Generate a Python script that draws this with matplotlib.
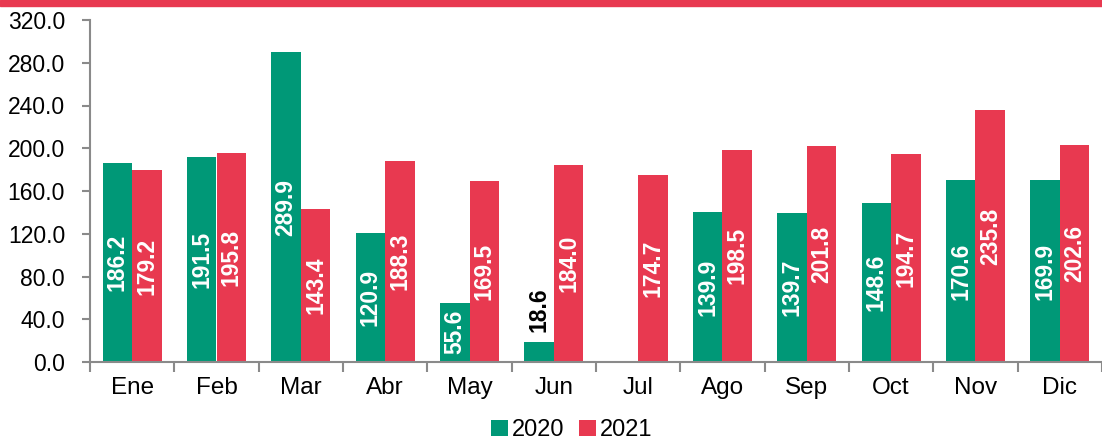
import matplotlib.pyplot as plt
import numpy as np

# Data
months = ["Ene", "Feb", "Mar", "Abr", "May", "Jun", "Jul", "Ago", "Sep", "Oct", "Nov", "Dic"]
v2020 = [186.2, 191.5, 289.9, 120.9, 55.6, 18.6, np.nan, 139.9, 139.7, 148.6, 170.6, 169.9]
v2021 = [179.2, 195.8, 143.4, 188.3, 169.5, 184.0, 174.7, 198.5, 201.8, 194.7, 235.8, 202.6]

green = "#009877"
red = "#E83950"
grey = "#8a8a8a"

plt.rcParams['font.family'] = ['Liberation Sans', 'DejaVu Sans']

fig = plt.figure(figsize=(11.02, 4.41), dpi=100)
ax = fig.add_axes([90 / 1102, 1 - 362 / 441, 1012 / 1102, (362 - 20) / 441])

# red band at the top
fig.patches.append(plt.Rectangle((0, 1 - 6 / 441), 1, 6 / 441, transform=fig.transFigure,
                                 color=red, zorder=0))

x = np.arange(len(months))
w = 0.35
b1 = ax.bar(x - w / 2, v2020, w, color=green, label="2020")
b2 = ax.bar(x + w / 2, v2021, w, color=red, label="2021")

# value labels, rotated, centred in the bars
for xs, vals in [(x - w / 2, v2020), (x + w / 2, v2021)]:
    for xi, v in zip(xs, vals):
        if np.isnan(v):
            continue
        if v < 40:
            ax.annotate(f"{v:.1f}", (xi, v), xytext=(0, 7), textcoords="offset points",
                        rotation=90, ha="center", va="bottom", fontsize=16.5,
                        fontweight="bold", color="black")
        else:
            ax.text(xi, v / 2, f"{v:.1f}", rotation=90, ha="center", va="center",
                    fontsize=16.5, fontweight="bold", color="white")

ax.set_xlim(-0.5, 11.43)
ax.set_ylim(0, 320)
ax.set_yticks(np.arange(0, 321, 40))
ax.set_yticklabels([f"{t:.1f}" for t in np.arange(0, 321, 40)])

ax.set_xticks(x)
ax.set_xticklabels(months)
ax.set_xticks(np.arange(-0.5, 12, 1), minor=True)
ax.tick_params(axis="x", which="major", length=0, pad=11, labelsize=17.5)
ax.tick_params(axis="x", which="minor", length=7, width=1.5, color=grey)
ax.tick_params(axis="y", length=6, width=1.5, color=grey, pad=12, labelsize=16.5)

for s in ["top", "right"]:
    ax.spines[s].set_visible(False)
for s in ["left", "bottom"]:
    ax.spines[s].set_color(grey)
    ax.spines[s].set_linewidth(1.5)

fig.legend(handles=[b1, b2], labels=["2020", "2021"], loc="center",
           bbox_to_anchor=(0.519, 0.024), ncol=2, frameon=False, fontsize=17,
           handlelength=0.7, handleheight=0.7, handletextpad=0.2, columnspacing=0.6)

fig.savefig("out.png", dpi=100)
